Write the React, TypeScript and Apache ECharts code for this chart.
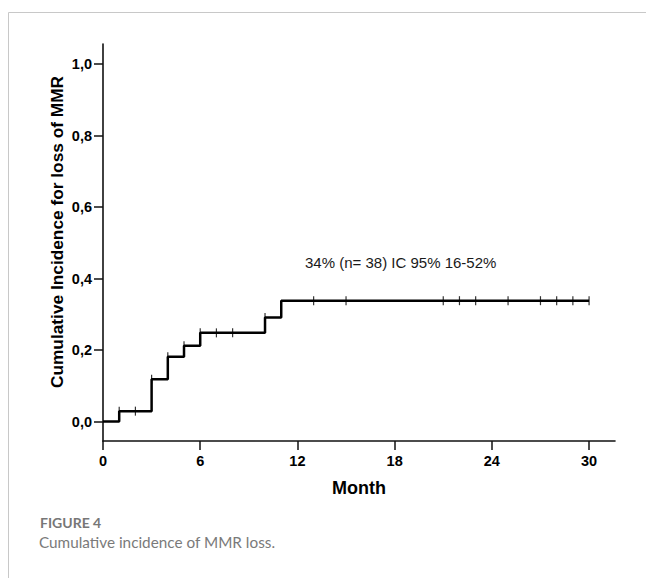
import React, { useEffect, useRef } from "react";
import * as echarts from "echarts";

// Step curve (cumulative incidence), value holds from month onward
const stepMonths = [0, 1, 3, 4, 5, 6, 10, 11, 30];
const stepValues = [0, 0.029, 0.118, 0.181, 0.212, 0.248, 0.291, 0.338, 0.338];

// Censored observations
const censorMonths = [1, 2, 3, 4, 5, 6, 7, 8, 10, 13, 15, 21, 22, 23, 25, 27, 28, 29, 30];
const censorValues = [
  0.029, 0.029, 0.118, 0.181, 0.212, 0.248, 0.248, 0.248, 0.291, 0.338, 0.338, 0.338, 0.338,
  0.338, 0.338, 0.338, 0.338, 0.338, 0.338,
];

const xTicks = [0, 6, 12, 18, 24, 30];
const yTicks = [0, 0.2, 0.4, 0.6, 0.8, 1.0];

const annotation = "34% (n= 38) IC 95% 16-52%";
const yTitle = "Cumulative Incidence for loss of MMR";
const xTitle = "Month";
const figLabel = "FIGURE 4";
const caption = "Cumulative incidence of MMR loss.";

const ARIAL = "'Liberation Sans', Arial, Helvetica, sans-serif";
const CAPTION_FONT = "Lato, 'Open Sans', sans-serif";

export default function App() {
  const ref = useRef<HTMLDivElement>(null);

  useEffect(() => {
    document.body.style.margin = "0";
    if (!ref.current) return;
    const chart = echarts.init(ref.current, undefined, { renderer: "svg" });

    const axisColor = "#111";

    chart.setOption({
      animation: false,
      backgroundColor: "#fff",
      grid: { left: 103, top: 44, right: 31, bottom: 137, containLabel: false },
      xAxis: {
        type: "value",
        min: 0,
        max: 31.6,
        splitLine: { show: false },
        axisLine: { show: true, onZero: false, lineStyle: { color: axisColor, width: 1.6 } },
        axisTick: {
          show: true,
          length: 9,
          customValues: xTicks,
          lineStyle: { color: axisColor, width: 1.5 },
        },
        axisLabel: {
          customValues: xTicks,
          margin: 12,
          color: "#000",
          fontFamily: ARIAL,
          fontWeight: "bold",
          fontSize: 14.5,
        },
      },
      yAxis: {
        type: "value",
        min: -0.0545,
        max: 1.056,
        splitLine: { show: false },
        axisLine: { show: true, onZero: false, lineStyle: { color: axisColor, width: 1.6 } },
        axisTick: {
          show: true,
          length: 9,
          customValues: yTicks,
          lineStyle: { color: axisColor, width: 1.5 },
        },
        axisLabel: {
          customValues: yTicks,
          margin: 11,
          color: "#000",
          fontFamily: ARIAL,
          fontWeight: "bold",
          fontSize: 14.5,
          formatter: (v: number) => v.toFixed(1).replace(".", ","),
        },
      },
      series: [
        {
          type: "line",
          step: "end",
          data: stepMonths.map((m, i) => [m, stepValues[i]]),
          showSymbol: false,
          lineStyle: { color: "#000", width: 2.5 },
          z: 3,
        },
        {
          type: "scatter",
          data: censorMonths.map((m, i) => [m, censorValues[i]]),
          symbol: "rect",
          symbolSize: [1.2, 9],
          itemStyle: { color: "#000" },
          z: 4,
        },
      ],
      graphic: [
        {
          type: "line",
          shape: { x1: 8.5, y1: 12.5, x2: 646, y2: 12.5 },
          style: { stroke: "#c8c8c8", lineWidth: 1 },
        },
        {
          type: "line",
          shape: { x1: 8.5, y1: 12.5, x2: 8.5, y2: 578 },
          style: { stroke: "#c8c8c8", lineWidth: 1 },
        },
        {
          type: "text",
          x: 305,
          y: 262,
          style: {
            text: annotation,
            fill: "#1a1a1a",
            font: `15px ${ARIAL}`,
            textAlign: "left",
            textVerticalAlign: "middle",
          },
        },
        {
          type: "text",
          x: 57,
          y: 232,
          rotation: Math.PI / 2,
          style: {
            text: yTitle,
            fill: "#000",
            font: `bold 17.3px ${ARIAL}`,
            textAlign: "center",
            textVerticalAlign: "middle",
          },
        },
        {
          type: "text",
          x: 359,
          y: 488,
          style: {
            text: xTitle,
            fill: "#000",
            font: `bold 18px ${ARIAL}`,
            textAlign: "center",
            textVerticalAlign: "middle",
          },
        },
        {
          type: "text",
          x: 40,
          y: 522,
          style: {
            text: figLabel,
            fill: "#777",
            font: `bold 14px ${CAPTION_FONT}`,
            textAlign: "left",
            textVerticalAlign: "middle",
          },
        },
        {
          type: "text",
          x: 39,
          y: 542,
          style: {
            text: caption,
            fill: "#7a7a7a",
            font: `15.3px ${CAPTION_FONT}`,
            textAlign: "left",
            textVerticalAlign: "middle",
          },
        },
      ],
    });

    return () => chart.dispose();
  }, []);

  return <div ref={ref} style={{ width: 646, height: 578 }} />;
}
